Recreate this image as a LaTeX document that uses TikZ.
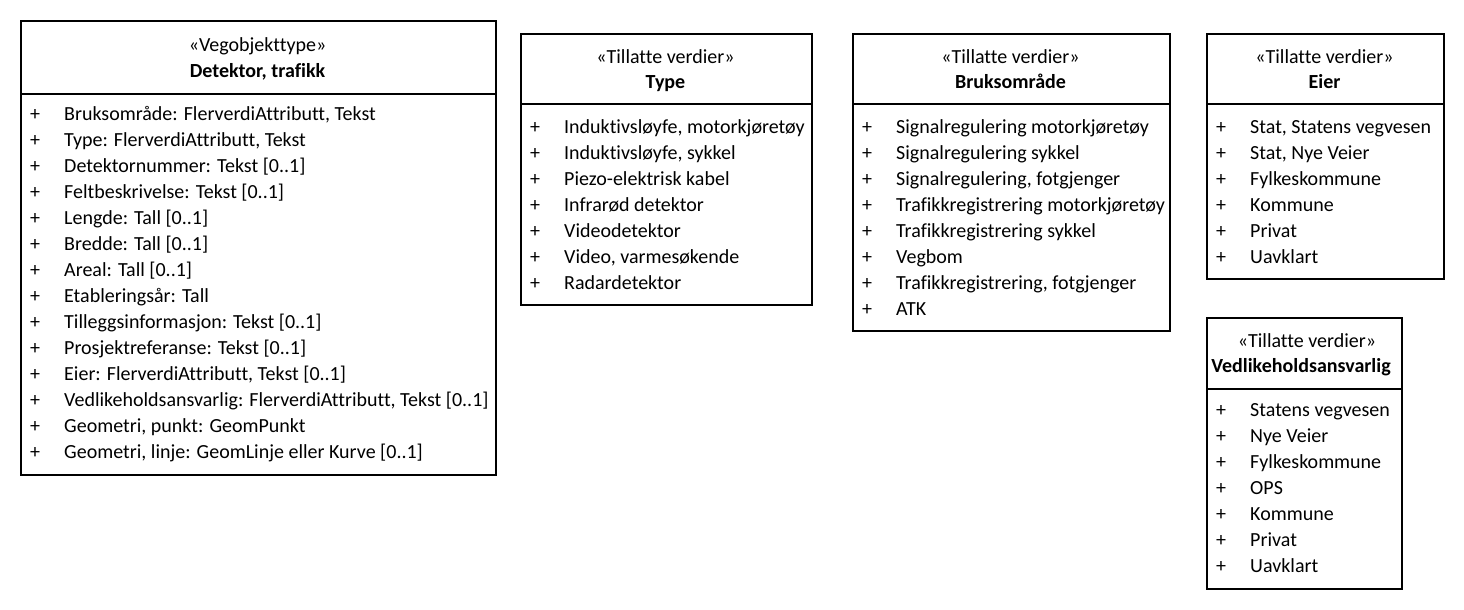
\documentclass[tikz,border=0pt]{standalone}
\usepackage{fontspec}
\setmainfont{Carlito}[Ligatures=CommonOff]
\begin{document}
\begin{tikzpicture}[x=1pt,y=-1pt,
  classbox/.style={draw=black,line width=1.8pt,anchor=north west,inner sep=0pt},
  divline/.style={draw=black,line width=1.8pt},
  hdr/.style={anchor=mid,inner sep=0pt,font=\fontsize{20}{24}\selectfont},
  hdrb/.style={anchor=mid,inner sep=0pt,font=\fontsize{20}{24}\selectfont\bfseries},
  itemtext/.style={anchor=mid west,inner sep=0pt,font=\fontsize{20}{24}\selectfont},
  plus/.style={anchor=mid,inner sep=0pt,font=\fontsize{20}{24}\selectfont}]
\useasboundingbox[fill=white] (0,0) rectangle (1464,610);

% Detektor, trafikk
\node[classbox,minimum width=475pt,minimum height=454pt] (det) at (20,20) {};
\draw[divline] (det.west |- 0,94) -- (det.east |- 0,94);
\node[hdr] (det-s) at (257.5,49) {«Vegobjekttype»};
\node[hdrb] (det-n) at (257.5,75) {Detektor, trafikk};
\foreach \t [count=\i] in {{Bruksområde: FlerverdiAttributt, Tekst},{Type: FlerverdiAttributt, Tekst},{Detektornummer: Tekst [0..1]},{Feltbeskrivelse: Tekst [0..1]},{Lengde: Tall [0..1]},{Bredde: Tall [0..1]},{Areal: Tall [0..1]},{Etableringsår: Tall},{Tilleggsinformasjon: Tekst [0..1]},{Prosjektreferanse: Tekst [0..1]},{Eier: FlerverdiAttributt, Tekst [0..1]},{Vedlikeholdsansvarlig: FlerverdiAttributt, Tekst [0..1]},{Geometri, punkt: GeomPunkt},{Geometri, linje: GeomLinje eller Kurve [0..1]}}{
  \node[plus] (det-p\i) at (35,{118+(\i-1)*26}) {+};
  \node[itemtext] (det-i\i) at (64,{118+(\i-1)*26}) {\t};
}

% Type
\node[classbox,minimum width=291pt,minimum height=271pt] (typ) at (520,33) {};
\draw[divline] (typ.west |- 0,104) -- (typ.east |- 0,104);
\node[hdr] (typ-s) at (665.5,61) {«Tillatte verdier»};
\node[hdrb] (typ-n) at (665.5,86) {Type};
\foreach \t [count=\i] in {{Induktivsløyfe, motorkjøretøy},{Induktivsløyfe, sykkel},{Piezo-elektrisk kabel},{Infrarød detektor},{Videodetektor},{Video, varmesøkende},{Radardetektor}}{
  \node[plus] (typ-p\i) at (535,{131+(\i-1)*26}) {+};
  \node[itemtext] (typ-i\i) at (564,{131+(\i-1)*26}) {\t};
}

% Bruksområde
\node[classbox,minimum width=317pt,minimum height=297pt] (bru) at (852,33) {};
\draw[divline] (bru.west |- 0,104) -- (bru.east |- 0,104);
\node[hdr] (bru-s) at (1010.5,61) {«Tillatte verdier»};
\node[hdrb] (bru-n) at (1010.5,86) {Bruksområde};
\foreach \t [count=\i] in {{Signalregulering motorkjøretøy},{Signalregulering sykkel},{Signalregulering, fotgjenger},{Trafikkregistrering motorkjøretøy},{Trafikkregistrering sykkel},{Vegbom},{Trafikkregistrering, fotgjenger},{ATK}}{
  \node[plus] (bru-p\i) at (867,{131+(\i-1)*26}) {+};
  \node[itemtext] (bru-i\i) at (896,{131+(\i-1)*26}) {\t};
}

% Eier
\node[classbox,minimum width=237pt,minimum height=245pt] (eie) at (1206,33) {};
\draw[divline] (eie.west |- 0,104) -- (eie.east |- 0,104);
\node[hdr] (eie-s) at (1324.5,61) {«Tillatte verdier»};
\node[hdrb] (eie-n) at (1324.5,86) {Eier};
\foreach \t [count=\i] in {{Stat, Statens vegvesen},{Stat, Nye Veier},{Fylkeskommune},{Kommune},{Privat},{Uavklart}}{
  \node[plus] (eie-p\i) at (1221,{131+(\i-1)*26}) {+};
  \node[itemtext] (eie-i\i) at (1250,{131+(\i-1)*26}) {\t};
}

% Vedlikeholdsansvarlig
\node[classbox,minimum width=195pt,minimum height=271pt] (ved) at (1206,317) {};
\draw[divline] (ved.west |- 0,389) -- (ved.east |- 0,389);
\node[hdr] (ved-s) at (1307,345) {«Tillatte verdier»};
\node[hdrb] (ved-n) at (1301,370) {Vedlikeholdsansvarlig};
\foreach \t [count=\i] in {{Statens vegvesen},{Nye Veier},{Fylkeskommune},{OPS},{Kommune},{Privat},{Uavklart}}{
  \node[plus] (ved-p\i) at (1221,{414+(\i-1)*26}) {+};
  \node[itemtext] (ved-i\i) at (1250,{414+(\i-1)*26}) {\t};
}
\end{tikzpicture}
\end{document}
